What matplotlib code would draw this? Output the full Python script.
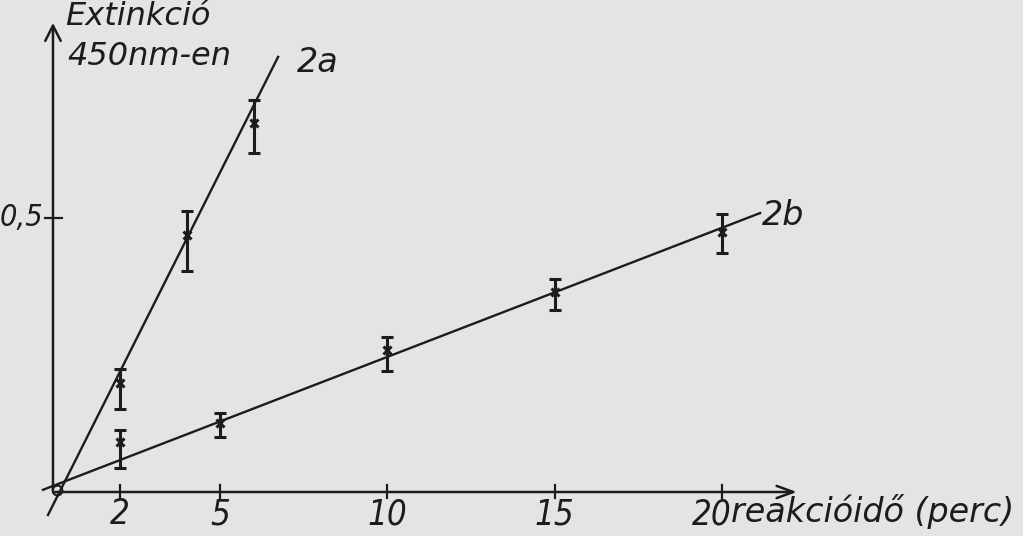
import matplotlib
matplotlib.use("Agg")
import matplotlib.pyplot as plt

# data
t_2a = [2, 4, 6]
ext_2a = [0.198, 0.469, 0.673]
lo_2a = [0.151, 0.403, 0.618]
hi_2a = [0.224, 0.513, 0.715]

t_2b = [2, 5, 10, 15, 20]
ext_2b = [0.092, 0.126, 0.259, 0.365, 0.475]
lo_2b = [0.044, 0.100, 0.221, 0.332, 0.437]
hi_2b = [0.113, 0.144, 0.283, 0.389, 0.507]

# hand-drawn fit lines (end points)
fit_2a_t = [-0.15, 6.73]
fit_2a_y = [-0.042, 0.794]
fit_2b_t = [-0.30, 21.14]
fit_2b_y = [0.004, 0.509]

xticks = [2, 5, 10, 15, 20]
xtick_labels = ["2", "5", "10", "15", "20"]
ytick = 0.5
ytick_label = "0,5"

INK = "#1c1c1c"
BG = "#e4e4e2"
FONT = dict(family="DejaVu Sans", style="italic", color=INK)
NARROW = dict(FONT, stretch="condensed")

fig = plt.figure(figsize=(10.23, 5.36), dpi=100, facecolor=BG)
ax = fig.add_axes([0, 0, 1, 1])
ax.set_facecolor(BG)
ax.set_xlim(-1.584, 29.0)
ax.set_ylim(-0.0803, 0.8978)
ax.axis("off")

# axes drawn by hand with arrow heads
ax.annotate("", xy=(22.24, 0), xytext=(0.06, 0),
            arrowprops=dict(arrowstyle="->,head_length=0.6,head_width=0.22",
                            color=INK, lw=1.8, mutation_scale=20,
                            shrinkA=0, shrinkB=0))
ax.annotate("", xy=(0, 0.856), xytext=(0, 0.004),
            arrowprops=dict(arrowstyle="->,head_length=0.55,head_width=0.28",
                            color=INK, lw=1.8, mutation_scale=20,
                            shrinkA=0, shrinkB=0))
ax.plot([0.12], [0.003], marker="o", ms=7, mfc="none", mec=INK, mew=1.5)

# ticks
for t, lab in zip(xticks, xtick_labels):
    ax.plot([t, t], [-0.011, 0.013], color=INK, lw=1.6)
    xt = t - 0.3 if t == xticks[-1] else t
    ax.text(xt, -0.010, lab, ha="center", va="top", fontsize=25, **NARROW)
ax.plot([-0.25, 0.28], [ytick, ytick], color=INK, lw=1.6)
ax.text(-0.30, ytick, ytick_label, ha="right", va="center", fontsize=22, **NARROW)

# fit lines
ax.plot(fit_2a_t, fit_2a_y, color=INK, lw=1.7)
ax.plot(fit_2b_t, fit_2b_y, color=INK, lw=1.7)

# measured points with error bars
for t, y, lo, hi in [(t_2a, ext_2a, lo_2a, hi_2a), (t_2b, ext_2b, lo_2b, hi_2b)]:
    yerr = [[a - b for a, b in zip(y, lo)], [b - a for a, b in zip(y, hi)]]
    ax.errorbar(t, y, yerr=yerr, fmt="x", ms=6, mew=2.2, color=INK,
                ecolor=INK, elinewidth=2.2, capsize=4, capthick=2.2)

# labels
ax.text(0.36, 0.852, "Extinkció", ha="left", va="baseline", fontsize=23, **FONT)
ax.text(0.42, 0.780, "450nm-en", ha="left", va="baseline", fontsize=23, **FONT)
ax.text(7.29, 0.766, "2a", ha="left", va="baseline", fontsize=24, **FONT)
ax.text(21.2, 0.487, "2b", ha="left", va="baseline", fontsize=24, **FONT)
ax.text(20.27, -0.055, "reakcióidő (perc)", ha="left", va="baseline",
        fontsize=24, **FONT)

fig.savefig("out.png", dpi=100, facecolor=BG)
